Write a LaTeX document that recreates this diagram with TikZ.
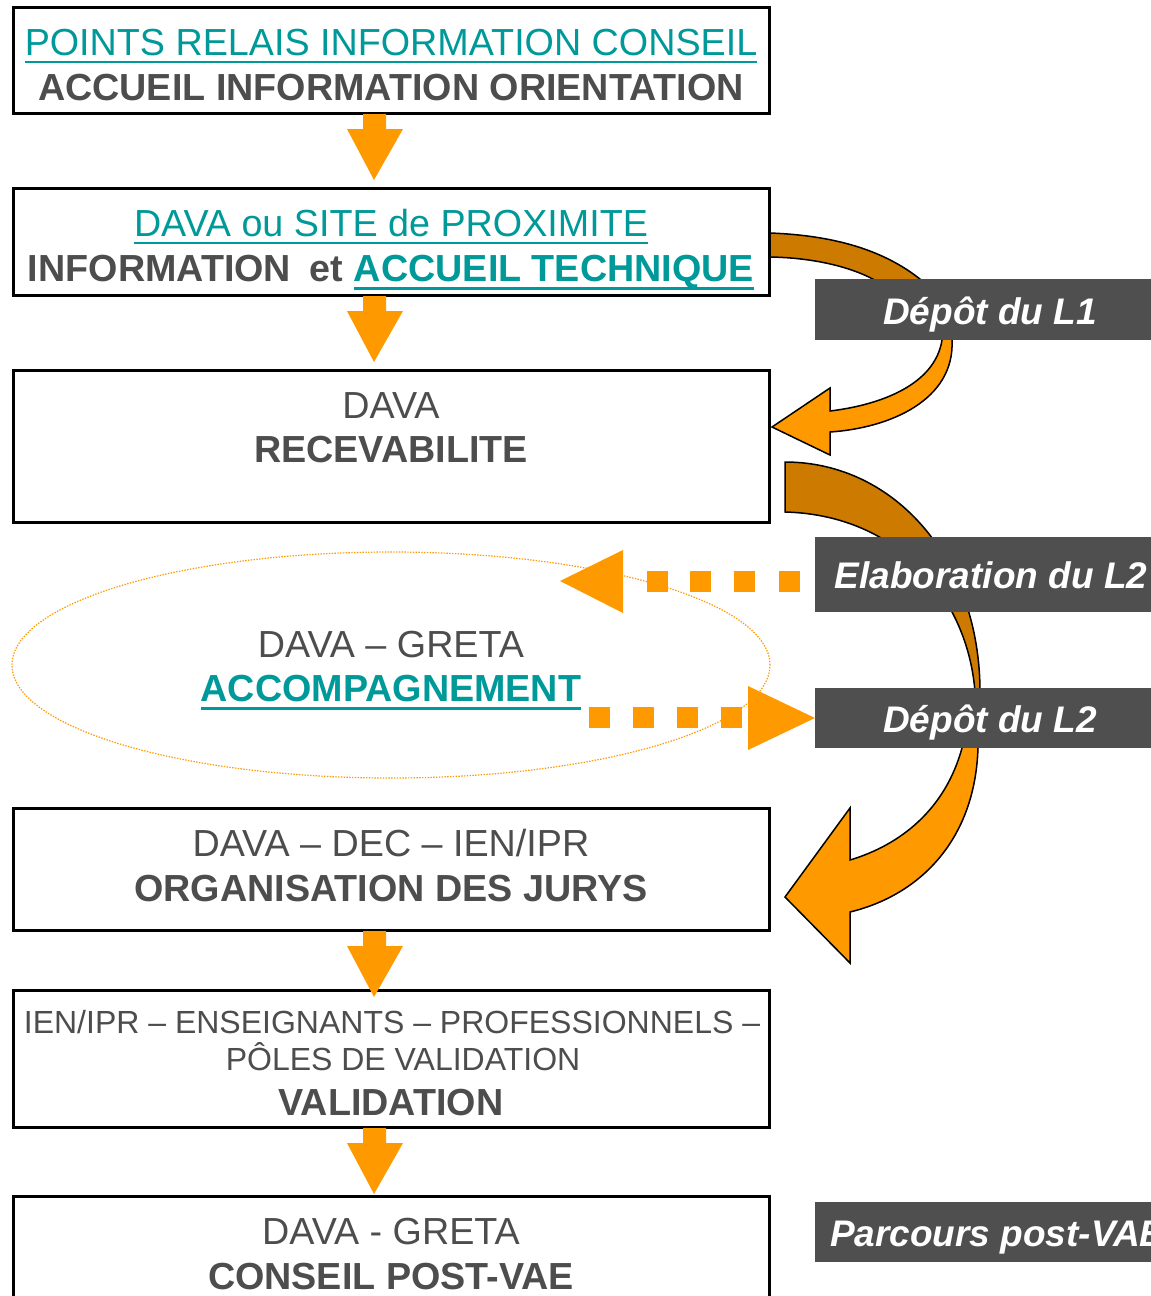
\documentclass[tikz,border=0pt]{standalone}
\usepackage{fontspec}
\setmainfont{Liberation Sans}
\usetikzlibrary{calc,shapes.geometric}
\definecolor{orng}{HTML}{FF9900}
\definecolor{dorng}{HTML}{CC7A00}
\definecolor{tealc}{HTML}{009999}
\definecolor{txtgray}{HTML}{4D4D4D}
\definecolor{lblgray}{HTML}{4F4F4F}
\newcommand\myul[3]{\setbox0=\hbox{#3}\rlap{\rule[-#1]{\wd0}{#2}}\box0}
\newcommand\fszA{\fontsize{37.7}{44}\selectfont}
\newcommand\fszL{\fontsize{37}{44}\selectfont}
\newcommand\fszB{\fontsize{32}{38}\selectfont}
\newcommand\fatdown[2]{%
  \fill[orng] ($(#1.south)+(-28,1)$) -- ($(#1.south)+(-5,1)$) -- ($(#1.south)+(-5,16)$)
    -- ($(#1.south)+(12,16)$) -- ($(#1.south)+(-17,67)$) -- ($(#1.south)+(-44,16)$)
    -- ($(#1.south)+(-28,16)$) -- cycle;}
\begin{document}
\begin{tikzpicture}[x=1pt,y=-1pt,
  every node/.style={inner sep=0pt, outer sep=0pt},
  box/.style={draw=black, line width=3pt, fill=white, minimum width=756pt},
  txt/.style={anchor=base, text=txtgray, font=\fszA},
  txtb/.style={anchor=base, text=txtgray, font=\fszA\bfseries},
  lblbox/.style={fill=lblgray, anchor=north west, minimum width=346pt},
  lbltxt/.style={anchor=base, text=white, font=\fszL\bfseries\itshape},
  carrow/.style={draw=black, line width=1.5pt, line join=miter},
  sq/.style={fill=orng}]
\useasboundingbox (0,0) rectangle (1151,1296);
\fill[white] (0,0) rectangle (1151,1296);

% curved arrows (drawn behind boxes and labels)
\draw[carrow, fill=dorng] (770,233) .. controls (850,236) and (905,258) .. (942,300)
  -- (900,300) .. controls (880,275) and (830,258) .. (770,257) -- cycle;
\draw[carrow, fill=orng] (938,330) -- (942,340) .. controls (935,385) and (880,405) .. (830,411)
  -- (830,388) -- (772,427) -- (830,455) -- (830,432)
  .. controls (890,428) and (955,400) .. (952,340) -- (953,330) -- cycle;
\draw[carrow, fill=dorng] (785,462) .. controls (895,462) and (980,560) .. (980,692)
  -- (975,692) .. controls (968,600) and (900,515) .. (785,512) -- cycle;
\draw[carrow, fill=orng] (962,740) -- (962,748) .. controls (945,810) and (900,845) .. (850,860)
  -- (850,808) -- (785,897) -- (850,963) -- (850,912)
  .. controls (920,895) and (975,840) .. (978,748) -- (978,740) -- cycle;

% boxes
\node[box, minimum height=106pt] (b1) at (391,60) {};
\node[box, minimum height=107pt] (b2) at (391,241.5) {};
\node[box, minimum height=152pt] (b3) at (391,446) {};
\node[box, minimum height=122pt] (b4) at (391,869) {};
\node[box, minimum height=137pt] (b5) at (391,1058.5) {};
\node[box, minimum height=204pt] (b6) at (391,1298) {};

% ellipse
\node[ellipse, draw=orng, line width=1.2pt, dash pattern=on 1.4pt off 1.4pt,
  minimum width=758pt, minimum height=226pt] (el) at (391,665) {};

% straight arrows
\fatdown{b1}{b2}
\fatdown{b2}{b3}
\fatdown{b4}{b5}
\fatdown{b5}{b6}

% dotted arrows
\foreach \xa in {647,690,734,779} \fill[sq] (\xa,571) rectangle ++(21,21);
\fill[orng] (623,550) -- (623,613) -- (560,581) -- cycle;
\foreach \xa in {589,633,677,721} \fill[sq] (\xa,707) rectangle ++(21,21);
\fill[orng] (748,686) -- (748,750) -- (815,718) -- cycle;

% labels
\node[lblbox, minimum height=61pt] (l1) at (815,279) {};
\node[lblbox, minimum height=75pt] (l2) at (815,537) {};
\node[lblbox, minimum height=60pt] (l3) at (815,688) {};
\node[lblbox, minimum height=60pt] (l4) at (815,1202) {};
\node[lbltxt] (l1t) at (990,324) {Dépôt du L1};
\node[lbltxt] (l2t) at (991,588) {Elaboration du L2};
\node[lbltxt] (l3t) at (990,732) {Dépôt du L2};
\node[lbltxt, anchor=base west] (l4t) at (830,1246) {Parcours post-VAE};

% box texts
\node[txt, text=tealc] (t1a) at (391,55) {\myul{7.5pt}{2pt}{POINTS RELAIS INFORMATION CONSEIL}};
\node[txtb] (t1b) at (391,100) {ACCUEIL INFORMATION ORIENTATION};
\node[txt, text=tealc] (t2a) at (391,236) {\myul{7.5pt}{2pt}{DAVA ou SITE de PROXIMITE}};
\node[txtb] (t2b) at (391,281) {INFORMATION\hspace{0.5em}et \textcolor{tealc}{\myul{8.5pt}{3pt}{ACCUEIL TECHNIQUE}}};
\node[txt] (t3a) at (391,418) {DAVA};
\node[txtb] (t3b) at (391,462) {RECEVABILITE};
\node[txt] (tea) at (391,657) {DAVA -- GRETA};
\node[txtb, text=tealc] (teb) at (391,701) {\myul{8.5pt}{3pt}{ACCOMPAGNEMENT}};
\node[txt] (t4a) at (391,856) {DAVA -- DEC -- IEN/IPR};
\node[txtb] (t4b) at (391,901) {ORGANISATION DES JURYS};
\node[txt, font=\fszB] (t5a) at (392,1033) {IEN/IPR -- ENSEIGNANTS -- PROFESSIONNELS --};
\node[txt, font=\fszB] (t5b) at (403,1070) {PÔLES DE VALIDATION};
\node[txtb] (t5c) at (391,1115) {VALIDATION};
\node[txt] (t6a) at (391,1244) {DAVA - GRETA};
\node[txtb] (t6b) at (391,1289) {CONSEIL POST-VAE};
\end{tikzpicture}
\end{document}
